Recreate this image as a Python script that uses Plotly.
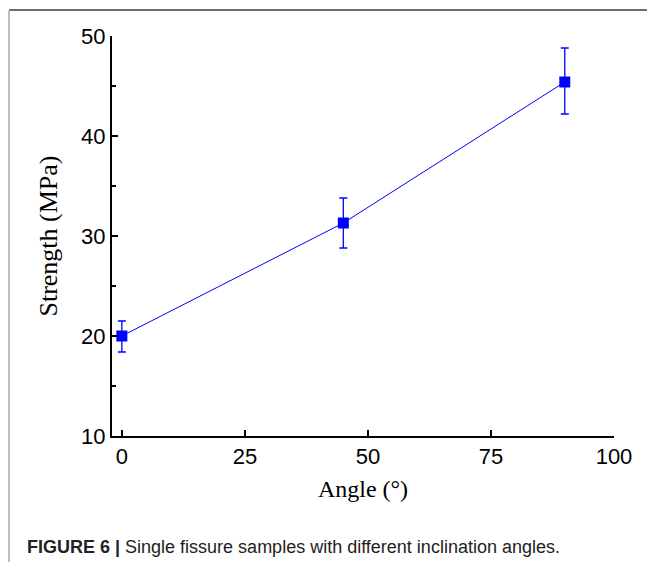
import plotly.graph_objects as go

angles = [0, 45, 90]
strength = [20.0, 31.3, 45.4]
err_plus = [1.5, 2.5, 3.4]
err_minus = [1.6, 2.5, 3.2]
x_ticks = [0, 25, 50, 75, 100]
y_ticks = [10, 20, 30, 40, 50]

W, H = 647, 562
L, R, T, B = 112, 33, 36, 126
pw, ph = W - L - R, H - T - B

def px(x):
    return (x - L) / pw

def py(y):
    return (H - B - y) / ph

fig = go.Figure()
fig.add_trace(go.Scatter(
    x=angles, y=strength, mode="lines+markers",
    line=dict(color="#0000ff", width=1),
    marker=dict(symbol="square", size=11, color="#0000ff"),
    error_y=dict(type="data", symmetric=False, array=err_plus, arrayminus=err_minus,
                 color="#0000ff", thickness=1.3, width=4),
    showlegend=False,
    cliponaxis=False,
))

axis_font = dict(family="Liberation Sans, Arial", size=22, color="black")
xtitle_font = dict(family="Liberation Serif, Times New Roman", size=24, color="black")
ytitle_font = dict(family="Liberation Serif, Times New Roman", size=26, color="black")

fig.update_layout(
    width=W, height=H,
    margin=dict(l=L, r=R, t=T, b=B),
    paper_bgcolor="white", plot_bgcolor="white",
    xaxis=dict(range=[-2, 100], tickvals=x_ticks, ticks="inside", ticklen=6, tickwidth=2,
               tickcolor="black", showline=True, linecolor="black", linewidth=2,
               showgrid=False, zeroline=False, tickfont=axis_font,
               title=dict(text="Angle (°)", font=xtitle_font, standoff=12)),
    yaxis=dict(range=[10, 50], tickvals=y_ticks, ticks="inside", ticklen=6, tickwidth=2,
               tickcolor="black", showline=True, linecolor="black", linewidth=2,
               showgrid=False, zeroline=False, tickfont=axis_font,
               minor=dict(tickvals=[15, 25, 35, 45], ticks="inside", ticklen=4,
                          tickwidth=1.5, tickcolor="black"),
               title=dict(text="Strength (MPa)", font=ytitle_font, standoff=16)),
    shapes=[
        dict(type="line", xref="paper", yref="paper", x0=px(9), x1=px(W), y0=py(10), y1=py(10),
             line=dict(color="#6e6e6e", width=2)),
        dict(type="line", xref="paper", yref="paper", x0=px(9), x1=px(9), y0=py(10), y1=py(H),
             line=dict(color="#bdbdbd", width=2)),
    ],
    annotations=[
        dict(text="<b>FIGURE 6 |</b> Single fissure samples with different inclination angles.",
             xref="paper", yref="paper", x=px(25), y=py(547), xanchor="left", yanchor="middle",
             showarrow=False, font=dict(family="Liberation Sans, Arial", size=18, color="#222")),
    ],
)

fig.write_html("out.html")
